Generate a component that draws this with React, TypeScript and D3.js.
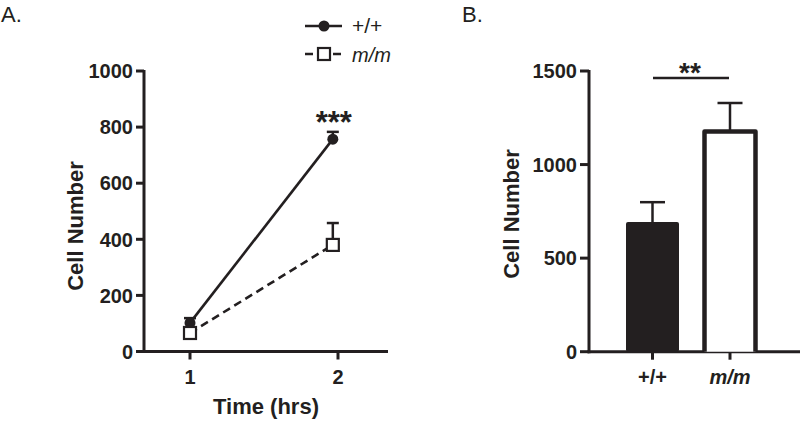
import React from "react";
import * as d3 from "d3";

// Panel A: time course
const timesA = [1, 1.965];
const wtMeans = [102, 757];
const wtErr = [17, 26];
const mmMeans = [66, 380];
const mmErr = [8, 78];
const yTicksA = [0, 200, 400, 600, 800, 1000];
const xTicksA = [1, 2];

// Panel B: bars
const genotypes = ["+/+", "m/m"];
const barMeans = [693, 1177];
const barErr = [106, 152];
const yTicksB = [0, 500, 1000, 1500];

const INK = "#231f20";
const FONT = "'Liberation Sans', Arial, Helvetica, sans-serif";

export default function App() {
  const yA = d3.scaleLinear().domain([0, 1000]).range([351.5, 71]);
  const xA = d3.scaleLinear().domain([1, 2]).range([190, 338]);
  const yB = d3.scaleLinear().domain([0, 1500]).range([351.7, 71]);
  const xB = d3.scalePoint<string>().domain(genotypes).range([652.5, 730]);
  const lineGen = d3
    .line<[number, number]>()
    .x((d) => xA(d[0]))
    .y((d) => yA(d[1]));
  const wtPts = timesA.map((t, i) => [t, wtMeans[i]] as [number, number]);
  const mmPts = timesA.map((t, i) => [t, mmMeans[i]] as [number, number]);
  const barW = 51;
  const sq = 12;

  return (
    <svg
      width={800}
      height={421}
      style={{ position: "absolute", left: 0, top: 0, background: "#fff" }}
      fontFamily={FONT}
    >
      {/* Panel labels */}
      <text x={1} y={21.5} fontSize={22} fill={INK}>A.</text>
      <text x={462} y={21.5} fontSize={22} fill={INK}>B.</text>

      {/* ===== Panel A ===== */}
      <g>
        <line x1={144} x2={144} y1={yA(1000) - 1} y2={yA(0) + 1.5} stroke={INK} strokeWidth={3} />
        <line x1={142.5} x2={388} y1={yA(0)} y2={yA(0)} stroke={INK} strokeWidth={3} />
        {yTicksA.map((t) => (
          <g key={t}>
            <line x1={136} x2={144} y1={yA(t)} y2={yA(t)} stroke={INK} strokeWidth={3} />
            <text x={133} y={yA(t)} dy="0.36em" textAnchor="end" fontSize={20} fontWeight="bold" fill={INK}>
              {t}
            </text>
          </g>
        ))}
        {xTicksA.map((t) => (
          <g key={t}>
            <line x1={xA(t)} x2={xA(t)} y1={yA(0)} y2={yA(0) + 8} stroke={INK} strokeWidth={3} />
            <text x={xA(t)} y={384} textAnchor="middle" fontSize={20} fontWeight="bold" fill={INK}>
              {t}
            </text>
          </g>
        ))}
        <text x={266} y={414} textAnchor="middle" fontSize={22} fontWeight="bold" fill={INK}>
          Time (hrs)
        </text>
        <text
          transform={`translate(83,${226}) rotate(-90)`}
          textAnchor="middle"
          fontSize={22}
          fontWeight="bold"
          fill={INK}
        >
          Cell Number
        </text>

        <path d={lineGen(mmPts) || ""} fill="none" stroke={INK} strokeWidth={2.6} strokeDasharray="8,5" />
        <path d={lineGen(wtPts) || ""} fill="none" stroke={INK} strokeWidth={2.6} />

        {timesA.map((t, i) => (
          <g key={"we" + i}>
            <line x1={xA(t)} x2={xA(t)} y1={yA(wtMeans[i])} y2={yA(wtMeans[i] + wtErr[i])} stroke={INK} strokeWidth={2.5} />
            <line x1={xA(t) - 6} x2={xA(t) + 6} y1={yA(wtMeans[i] + wtErr[i])} y2={yA(wtMeans[i] + wtErr[i])} stroke={INK} strokeWidth={2.5} />
          </g>
        ))}
        {timesA.map((t, i) => (
          <g key={"me" + i}>
            <line x1={xA(t)} x2={xA(t)} y1={yA(mmMeans[i])} y2={yA(mmMeans[i] + mmErr[i])} stroke={INK} strokeWidth={2.5} />
            <line x1={xA(t) - 6} x2={xA(t) + 6} y1={yA(mmMeans[i] + mmErr[i])} y2={yA(mmMeans[i] + mmErr[i])} stroke={INK} strokeWidth={2.5} />
          </g>
        ))}

        {wtPts.map((p, i) => (
          <circle key={"wc" + i} cx={xA(p[0])} cy={yA(p[1])} r={5.5} fill={INK} />
        ))}
        {mmPts.map((p, i) => (
          <rect
            key={"ms" + i}
            x={xA(p[0]) - sq / 2}
            y={yA(p[1]) - sq / 2}
            width={sq}
            height={sq}
            fill="#fff"
            stroke={INK}
            strokeWidth={2.2}
          />
        ))}

        <text x={xA(timesA[1]) + 1} y={133} textAnchor="middle" fontSize={31} fontWeight="bold" fill={INK}>
          ***
        </text>

        {/* legend */}
        <line x1={305} x2={342} y1={26} y2={26} stroke={INK} strokeWidth={2.6} />
        <circle cx={324} cy={26} r={5.5} fill={INK} />
        <text x={352} y={33} fontSize={21} fill={INK}>
          +/+
        </text>
        <line x1={305} x2={342} y1={54} y2={54} stroke={INK} strokeWidth={2.6} strokeDasharray="8,6" />
        <rect x={318} y={48} width={12} height={12} fill="#fff" stroke={INK} strokeWidth={2.2} />
        <text x={352} y={62} fontSize={20} fontStyle="italic" fill={INK}>
          m/m
        </text>
      </g>

      {/* ===== Panel B ===== */}
      <g>
        <line x1={589} x2={589} y1={yB(1500) - 1} y2={yB(0) + 1.5} stroke={INK} strokeWidth={3} />
        <line x1={587.5} x2={800} y1={yB(0)} y2={yB(0)} stroke={INK} strokeWidth={3} />
        {yTicksB.map((t) => (
          <g key={t}>
            <line x1={580} x2={589} y1={yB(t)} y2={yB(t)} stroke={INK} strokeWidth={3} />
            <text x={577} y={yB(t)} dy="0.36em" textAnchor="end" fontSize={20} fontWeight="bold" fill={INK}>
              {t}
            </text>
          </g>
        ))}
        {genotypes.map((g) => (
          <g key={g}>
            <line x1={xB(g)!} x2={xB(g)!} y1={yB(0)} y2={yB(0) + 8} stroke={INK} strokeWidth={3} />
            <text
              x={xB(g)!}
              y={384}
              textAnchor="middle"
              fontSize={20}
              fontWeight="bold"
              fontStyle={g === "m/m" ? "italic" : "normal"}
              fill={INK}
            >
              {g}
            </text>
          </g>
        ))}
        <text
          transform={`translate(519,${214}) rotate(-90)`}
          textAnchor="middle"
          fontSize={22}
          fontWeight="bold"
          fill={INK}
        >
          Cell Number
        </text>

        {genotypes.map((g, i) => (
          <g key={"be" + i}>
            <line x1={xB(g)!} x2={xB(g)!} y1={yB(barMeans[i])} y2={yB(barMeans[i] + barErr[i])} stroke={INK} strokeWidth={2.5} />
            <line
              x1={xB(g)! - 12.5}
              x2={xB(g)! + 12.5}
              y1={yB(barMeans[i] + barErr[i])}
              y2={yB(barMeans[i] + barErr[i])}
              stroke={INK}
              strokeWidth={2.5}
            />
          </g>
        ))}

        <rect
          x={xB(genotypes[0])! - 26.5}
          y={yB(barMeans[0])}
          width={53}
          height={yB(0) - yB(barMeans[0])}
          fill={INK}
          rx={2}
        />
        <path
          d={`M${xB(genotypes[1])! - barW / 2},${yB(0)} L${xB(genotypes[1])! - barW / 2},${yB(barMeans[1])} L${xB(genotypes[1])! + barW / 2},${yB(barMeans[1])} L${xB(genotypes[1])! + barW / 2},${yB(0)}`}
          fill="#fff"
          stroke={INK}
          strokeWidth={4.5}
          strokeLinejoin="round"
        />

        <line x1={653} x2={729} y1={78} y2={78} stroke={INK} strokeWidth={2.5} />
        <text x={690} y={82} textAnchor="middle" fontSize={28} fontWeight="bold" fill={INK}>
          **
        </text>
      </g>
    </svg>
  );
}
